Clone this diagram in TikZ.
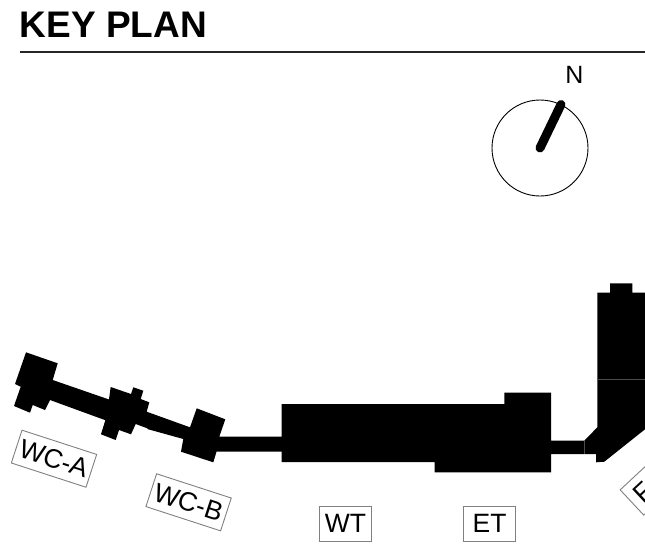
\documentclass[tikz,border=0pt]{standalone}
\usepackage{fontspec}
\setmainfont{Liberation Sans}
\tikzset{
  solidmass/.style={fill=black,draw=none},
  seam/.style={draw=black!70,line width=0.5pt},
  labelbox/.style={draw=black!50,line width=0.9pt,fill=white,inner sep=0pt,minimum height=34.5pt,font=\fontsize{26.5}{26.5}\selectfont},
}
\begin{document}
\begin{tikzpicture}[x=1pt,y=-1pt]
\useasboundingbox (0,0) rectangle (645,547);
\begin{scope}
\clip (0,0) rectangle (645,547);
% heading
\node[anchor=base west,inner sep=0pt,font=\bfseries\fontsize{37}{37}\selectfont] (title) at (19.5,37.5) {KEY PLAN};
\coordinate (ruleL) at (20,52);
\coordinate (ruleR) at (645,52);
\draw[line width=2pt,black!85] (ruleL) -- (ruleR);
% north marker
\node[draw,circle,line width=0.9pt,minimum size=96pt,inner sep=0pt] (compass) at (540,148) {};
\coordinate (needleTip) at (561,104.5);
\draw[line width=9pt,line cap=round] (compass.center) -- (needleTip);
\node[font=\fontsize{25}{25}\selectfont,inner sep=0pt] (north) at (574.3,75) {N};
% WC-A
\fill[solidmass] (26,352.3) -- (57.7,363.3) -- (52.7,380) -- (116,401.9) -- (113,423) -- (50,400) -- (45,410) -- (32.7,405) -- (30,412.7) -- (14,406) -- (20.7,386.7) -- (15,384) -- cycle;
% middle block
\fill[solidmass] (110.7,387) -- (131,394) -- (133.3,387.3) -- (143.3,390.7) -- (140.7,399) -- (149.3,402.3) -- (146.7,411.7) -- (190,427.3) -- (196.7,408.3) -- (225.3,419.3) -- (219.3,436.7) -- (282,436.7) -- (282,451.7) -- (216.5,451.7) -- (213.3,462.3) -- (181,451.7) -- (183.3,439) -- (148.3,429.3) -- (147.3,428.3) -- (135.7,424) -- (131,434.3) -- (119,430) -- (115.7,440) -- (101,434.3) -- (106.7,415.7) -- cycle;
% WT + ET
\fill[solidmass] (281.7,404) -- (504.3,404) -- (504.3,392.7) -- (551,392.7) -- (551,440.7) -- (584.3,440.7) -- (597.3,427.3) -- (597.3,292.7) -- (610,292.7) -- (610,283.3) -- (632.3,283.3) -- (632.3,292.7) -- (645,292.7) -- (645,429.3) -- (604.3,461.7) -- (596,462.3) -- (596,454) -- (551,454) -- (551,472.3) -- (434.7,472.3) -- (434.7,462) -- (281.7,462) -- cycle;
\draw[seam] (597.3,379.3) -- (645,379.3);
\draw[seam] (584.3,440.7) -- (584.3,454);
% labels
\node[labelbox,minimum width=78.5pt,rotate=-18] (wca) at (54,458.7) {WC-A};
\node[labelbox,minimum width=78.5pt,rotate=-18] (wcb) at (188.6,502.3) {WC-B};
\node[labelbox,minimum width=52.4pt] (wt) at (345.5,523.8) {WT};
\node[labelbox,minimum width=52.4pt] (et) at (489.5,523.8) {ET};
\node[labelbox,minimum width=52.4pt,rotate=43] (ft) at (651.1,484.6) {\makebox[38pt][l]{F}};
\end{scope}
\end{tikzpicture}
\end{document}
